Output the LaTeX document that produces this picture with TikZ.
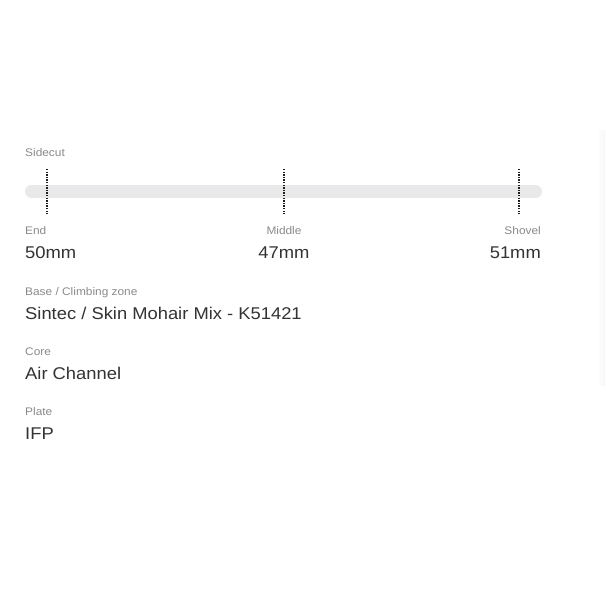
\documentclass[tikz,border=0pt]{standalone}
\usepackage{fontspec}
\setmainfont{Liberation Sans}[FakeStretch=1.08]
\definecolor{labgray}{HTML}{8A8A8A}
\definecolor{valgray}{HTML}{333333}
\definecolor{barc}{HTML}{E9E9EB}
\definecolor{tickc}{HTML}{1E1E1E}
\begin{document}
\begin{tikzpicture}[x=1pt,y=-1pt,
  lab/.style={inner sep=0pt, font=\fontsize{11}{13}\selectfont, text=labgray},
  val/.style={inner sep=0pt, font=\fontsize{17}{20}\selectfont, text=valgray},
  tickline/.style={draw=tickc, line width=1.5pt, dash pattern=on 1.3pt off 1.3pt}]
\useasboundingbox (0,0) rectangle (605,605);
\fill[white] (0,0) rectangle (605,605);
% faint right-edge shadow
\shade[left color=white, right color=black!3] (597,130) rectangle (605,385);
% sidecut bar
\fill[barc, rounded corners=6.5pt] (25,185) rectangle (542,198);
% tick lines
\coordinate (t1a) at (47,169); \coordinate (t1b) at (47,214);
\coordinate (t2a) at (284,169); \coordinate (t2b) at (284,214);
\coordinate (t3a) at (519,169); \coordinate (t3b) at (519,214);
\draw[tickline] (t1a) -- (t1b);
\draw[tickline] (t2a) -- (t2b);
\draw[tickline] (t3a) -- (t3b);
% labels
\node[lab, anchor=base west] (sidecut) at (25,156) {Sidecut};
\node[lab, anchor=base west] (end) at (25,234) {End};
\node[lab, anchor=base] (middle) at (284,234) {Middle};
\node[lab, anchor=base east] (shovel) at (541,234) {Shovel};
\node[val, anchor=base west] (v50) at (25,258) {50mm};
\node[val, anchor=base] (v47) at (284,258) {47mm};
\node[val, anchor=base east] (v51) at (541,258) {51mm};
\node[lab, anchor=base west] (base) at (25,295) {Base / Climbing zone};
\node[val, anchor=base west] (sintec) at (25,319) {Sintec / Skin Mohair Mix - K51421};
\node[lab, anchor=base west] (core) at (25,355) {Core};
\node[val, anchor=base west] (air) at (25,379) {Air Channel};
\node[lab, anchor=base west] (plate) at (25,415) {Plate};
\node[val, anchor=base west] (ifp) at (25,439) {IFP};
\end{tikzpicture}
\end{document}
